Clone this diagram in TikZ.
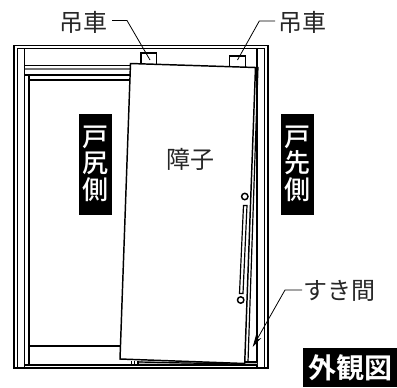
\documentclass[tikz,border=0pt]{standalone}
\usepackage{fontspec}
\usetikzlibrary{arrows.meta}
\newfontfamily\cjk{Noto Sans CJK JP}
\newfontfamily\cjkb{Noto Sans CJK JP Bold}
\newfontfamily\cjkm{Noto Sans CJK JP Medium}
\tikzset{
 thick line/.style={line width=1.4pt,line join=miter},
 thin line/.style={line width=0.9pt},
 lead/.style={line width=0.6pt},
 lbl/.style={font=\cjk\fontsize{18}{18}\selectfont,inner sep=0pt,text=black!85},
 tagbox/.style={fill=black,inner sep=0pt,minimum width=24.9pt,minimum height=76pt},
 tagtext/.style={text=white,inner sep=0pt,font=\cjkm\fontsize{19.5}{20}\selectfont,align=center}
}
\begin{document}
\begin{tikzpicture}[x=0.75pt,y=-0.75pt]
\useasboundingbox (0,0) rectangle (397,387);
% frame
\draw[thick line] (14,368) -- (14,45.5) -- (268,45.5) -- (268,368) -- cycle;
\draw[thin line] (17.5,368) -- (17.5,48.5) -- (264.7,48.5) -- (264.7,368);
\draw[thin line] (24.5,368) -- (24.5,48.5);
\draw[thin line] (257,48.5) -- (257,368);
\draw[thin line] (24.5,65.5) -- (131,65.5);
\draw[thin line,black!55] (24.5,69) -- (131,69);
\draw[thin line] (24.5,75) -- (130,75);
\draw[thin line] (29,80) -- (130,80);
\draw[thin line] (29,75) -- (29,365);
\draw[thin line] (29,346) -- (121,346);
\draw[thin line] (24.5,365) -- (257,365);
% track / gap at bottom
\fill[black!25] (138,361) -- (245,363) -- (257,362) -- (257,365) -- (138,365) -- cycle;
\draw[thin line] (131.7,361) -- (131.7,365);
\draw[thin line] (134.5,361) -- (134.5,365);
\draw[thin line] (138,361) -- (138,365);
\draw[thin line] (138,362) -- (245,364.2);
\draw[thin line] (245,362) -- (257,362);
\draw[thin line] (24.5,365) -- (257,365);
% hangers
\draw[thin line,fill=white] (141,63.5) -- (141,53) -- (156.5,53) -- (156.5,64);
\draw[thin line,fill=white] (229.5,67) -- (229.5,56) -- (245.5,56) -- (245.5,67.5);
% door
\coordinate (dTL) at (130.5,63.5);
\coordinate (dTR) at (255.5,67.5);
\coordinate (dBR) at (244.7,363.5);
\coordinate (dBL) at (120,359);
\draw[line width=1.1pt,fill=white] (dTL) -- (dTR) -- (dBR) -- (dBL) -- cycle;
\draw[thin line] (255.8,67.5) -- (258,67.5) -- (248,362);
% handle
\draw[line width=1.1pt] (244.8,196.5) circle (3.2);
\draw[line width=1.1pt] (240.7,300) circle (3.2);
\draw[thin line] (243.5,205.5) -- (247,205.5) -- (243,293.5) -- (239.5,293.5) -- cycle;
% labels
\node[lbl] (h1) at (84,22) {吊車};
\node[lbl] (h2) at (302,22) {吊車};
\node[lbl] (sk) at (339.5,291) {すき間};
\node[lbl] (sh) at (190.5,159.5) {障子};
\node[tagbox] (t1) at (95.7,164.8) {};
\node[tagbox] (t2) at (297.5,164.8) {};
\node[tagtext] (t1x) at (95.7,163.5) {戸\\尻\\側};
\node[tagtext] (t2x) at (297.5,163.5) {戸\\先\\側};
\node[fill=black,text=white,inner sep=0pt,minimum width=70.5pt,minimum height=29.3pt,font=\cjkb\fontsize{21}{21}\selectfont] (gk) at (350,367.5) {外観図};
% leaders
\coordinate (l1s) at (112,20.5);
\coordinate (l1m) at (127,20.5);
\coordinate (l1a) at (150,60);
\coordinate (l2s) at (275,21);
\coordinate (l2m) at (259.3,21);
\coordinate (l2a) at (237.5,60);
\coordinate (l3s) at (302,290);
\coordinate (l3m) at (285,290);
\coordinate (l3a) at (252.7,347);
\draw[lead] (l1s) -- (l1m) -- (l1a);
\draw[lead] (l2s) -- (l2m) -- (l2a);
\draw[lead,-{Stealth[length=9pt,width=4.5pt]}] (l3s) -- (l3m) -- (l3a);
\end{tikzpicture}
\end{document}
